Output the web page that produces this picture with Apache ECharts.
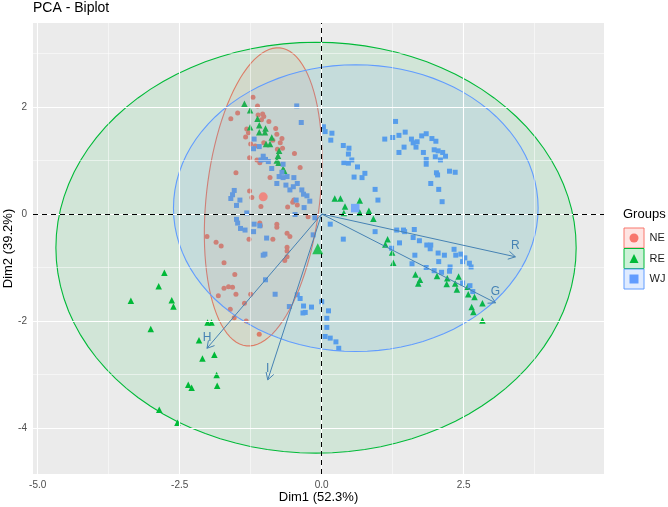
<!DOCTYPE html>
<html>
<head>
<meta charset="utf-8">
<title>PCA - Biplot</title>
<script src="https://cdn.jsdelivr.net/npm/echarts@6/dist/echarts.min.js"></script>
<style>
  html, body { margin: 0; padding: 0; background: #fff; }
  #chart { width: 668px; height: 507px; }
</style>
</head>
<body>
<div id="chart"></div>
<script>
// individuals (Dim1, Dim2)
const neData = [
  [-1.21,2.18],[-1.13,2.02],[-1.48,1.89],[-1.60,1.78],[-1.12,1.85],[-1.04,1.87],[-1.02,1.82],[-1.06,1.76],
  [-0.93,1.73],[-1.32,1.59],[-1.29,1.52],[-1.34,1.44],[-0.81,1.60],[-0.79,1.49],[-0.70,1.41],[-0.73,1.33],
  [-0.86,1.38],[-1.25,1.31],[-1.17,1.27],[-1.02,1.33],[-0.69,1.23],[-0.78,1.21],[-0.48,1.13],[-1.27,1.05],
  [-1.14,1.01],[-1.09,0.96],[-0.38,0.87],[-1.51,0.77],[-0.91,0.68],[-1.27,0.43],[-1.23,0.31],[-1.07,0.14],
  [-0.60,0.13],[-0.51,0.22],[-0.43,0.17],[-0.24,-0.05],[-0.79,-0.19],[-0.79,-0.25],[-1.08,-0.22],[-0.61,-0.36],
  [-0.56,-0.42],[-0.86,-0.47],[-2.02,-0.42],[-1.86,-0.53],[-1.77,-0.60],[-1.28,-0.47],[-0.61,-0.62],[-0.61,-0.69],
  [-1.72,-0.91],[-0.65,-0.87],[-0.61,-0.80],[-1.53,-1.13],[-1.72,-1.39],[-1.64,-1.36],[-1.57,-1.37],[-1.51,-1.50],
  [-1.82,-1.53],[-1.25,-1.50],[-1.36,-1.67],[-1.61,-1.78],[-1.54,-1.94],[-1.33,-2.00],[-1.10,-2.25],[-0.49,0.26],
  [-1.09,-0.17]
];
const reData = [
  [-1.36,2.06],[-1.26,1.94],[-1.13,1.78],[-1.10,1.66],[-1.26,1.62],[-1.10,1.53],[-0.99,1.60],[-1.00,1.53],
  [-0.88,1.43],[-0.98,1.31],[-0.91,1.31],[-0.75,1.18],[-0.77,1.09],[-0.79,1.00],[-0.76,0.96],[-0.68,0.84],
  [-0.66,0.81],
  [0.23,0.29],[0.33,0.29],[0.67,0.25],[0.41,0.14],[0.39,0.02],[0.67,0.03],[0.83,0.06],[0.91,-0.09],
  [1.16,-0.47],[1.12,-0.57],[1.24,-0.72],[1.26,-0.91],[1.65,-1.13],[1.73,-1.23],[1.70,-1.30],[2.03,-1.16],
  [2.21,-1.20],[2.20,-1.31],[2.41,-1.17],[2.35,-1.30],[2.38,-1.41],[2.57,-1.36],[2.58,-1.50],[2.69,-1.55],
  [2.83,-1.67],[2.64,-1.74],[2.67,-1.83],[2.83,-1.99],
  [-2.01,-2.03],[-1.94,-2.03],[-2.77,-1.10],[-2.87,-1.35],[-3.36,-1.62],[-2.64,-1.61],[-2.61,-1.73],[-3.01,-2.15],
  [-2.16,-2.36],[-2.10,-2.70],[-1.89,-2.63],[-1.85,-3.01],[-1.84,-3.21],[-2.35,-3.19],[-2.29,-3.25],[-2.86,-3.66],
  [-2.54,-3.90]
];
const wjData = [
  [-0.44,2.02],[-0.36,1.71],[0.03,1.63],[0.06,1.54],[0.18,1.51],[0.16,1.38],[-1.19,1.40],[-1.10,1.26],
  [-1.20,1.22],[-1.03,1.08],[-1.07,1.01],[-0.99,1.02],[-0.94,0.98],[-0.68,0.93],[-0.88,0.85],[-0.75,0.70],
  [-0.68,0.68],[-0.70,0.78],[-0.61,0.70],[-0.49,0.68],[-0.79,0.57],[-0.63,0.54],[-0.56,0.45],[-0.50,0.51],
  [-0.43,0.57],[-0.35,0.45],[-0.32,0.37],[-0.26,0.34],[-0.21,0.24],[-0.45,0.26],[-0.31,0.12],[-1.54,0.44],
  [-1.57,0.36],[-1.60,0.29],[-1.44,0.26],[-1.50,0.16],[-1.32,0.02],[-0.47,-0.01],[-0.12,-0.07],[-1.50,-0.10],
  [-1.48,-0.17],[-1.19,-0.19],[-1.09,-0.22],[-1.43,-0.27],[-1.35,-0.30],[-1.20,-0.33],[-0.97,-0.45],[-0.15,-0.39],
  [-1.00,-0.75],[-1.03,-0.77],[-0.99,-1.23],[-0.82,-1.50],[-0.43,-1.51],[-0.38,-1.58],[-0.32,-1.72],[-0.18,-1.74],
  [-0.29,-1.84],[-0.33,-1.85],[0.00,-1.64],[-0.57,-1.73],[0.12,-1.81],[0.09,-1.95],[0.09,-2.12],[0.06,-2.29],
  [0.15,-2.32],[0.25,-2.39],[0.30,-2.51],
  [1.30,1.73],[1.11,1.40],[1.25,1.43],[1.36,1.47],[1.47,1.53],[1.58,1.40],[1.61,1.33],[1.68,1.35],
  [1.66,1.25],[1.76,1.46],[1.84,1.50],[1.94,1.41],[2.01,1.36],[1.45,1.25],[1.36,1.15],[1.79,1.15],
  [1.98,1.20],[2.05,1.18],[2.13,1.15],[2.18,1.08],[2.00,1.07],[2.09,1.01],[1.84,1.02],[1.84,0.93],
  [0.38,1.28],[0.48,1.23],[0.47,1.12],[0.53,1.01],[0.39,0.96],[0.47,0.95],[0.63,0.88],[0.76,0.76],
  [0.71,0.68],[0.57,0.69],[2.02,0.77],[2.04,0.73],[2.25,0.80],[2.35,0.78],[1.92,0.57],[0.94,0.46],
  [2.06,0.46],[0.99,0.26],[2.12,0.23],
  [0.15,-0.19],[0.38,-0.47],[0.94,-0.33],[1.32,-0.30],[1.44,-0.30],[1.46,-0.33],[1.63,-0.29],[1.37,-0.54],
  [1.61,-0.44],[1.72,-0.50],[1.85,-0.58],[1.92,-0.58],[1.91,-0.65],[1.23,-0.64],[1.64,-0.77],[2.05,-0.73],
  [2.16,-0.77],[2.33,-0.66],[2.36,-0.77],[2.45,-0.75],[2.52,-0.82],[2.48,-0.89],[2.60,-0.92],[2.63,-0.99],
  [2.06,-0.89],[1.59,-0.93],[1.84,-1.00],[1.98,-1.06],[2.11,-1.09],[2.26,-0.99],[2.25,-1.07],[2.48,-1.29],
  [2.61,-1.34],[2.66,-1.45]
];

const groupNames = ['NE', 'RE', 'WJ'];
const groupMeans = [[-1.03, 0.32], [-0.07, -0.65], [0.59, 0.11]];
// ellipse per group: centre x, centre y, semi-axis 1, semi-axis 2, angle (deg)
const ellipseParams = [
  [-1.03, 0.32, 2.80, 1.00, 84],
  [-0.1, -0.63, 4.58, 3.84, 0],
  [0.60, 0.11, 3.21, 2.68, 0]
];

// variables (arrows)
const varNames = ['R', 'G', 'H', 'I'];
const varCoords = [[3.41, -0.80], [3.06, -1.66], [-2.02, -2.51], [-0.95, -3.10]];

const xTicks = [-5.0, -2.5, 0.0, 2.5];
const xMinor = [-3.75, -1.25, 1.25, 3.75];
const yTicks = [-4, -2, 0, 2];
const yMinor = [-3, -1, 1, 3];

const colors = ['#F8766D', '#00BA38', '#619CFF'];
const symbols = ['circle', 'triangle', 'rect'];
const arrowColor = '#4682B4';
const font = 'Liberation Sans, Arial, Helvetica, sans-serif';

function rgba(hex, a) {
  const n = parseInt(hex.slice(1), 16);
  return 'rgba(' + (n >> 16) + ',' + ((n >> 8) & 255) + ',' + (n & 255) + ',' + a + ')';
}

const chart = echarts.init(document.getElementById('chart'));

const lineMark = (vals, key, width) => ({
  silent: true,
  symbol: ['none', 'none'],
  label: { show: false },
  lineStyle: { color: '#fff', width: width, type: 'solid' },
  emphasis: { disabled: true },
  data: vals.map(v => ({ [key]: v }))
});

const pointSeries = [neData, reData, wjData].map((d, i) => ({
  name: groupNames[i],
  type: 'scatter',
  z: 3,
  silent: true,
  symbol: symbols[i],
  symbolSize: i === 1 ? 6.5 : 5,
  itemStyle: { color: colors[i], opacity: 1 },
  data: d
}));

chart.setOption({
  animation: false,
  title: {
    text: 'PCA - Biplot',
    left: 33, top: 1, padding: 0,
    textStyle: { fontSize: 14, fontWeight: 'normal', color: '#000', fontFamily: font }
  },
  grid: {
    left: 33, top: 23, width: 571, height: 451,
    containLabel: false, outerBoundsMode: 'none',
    show: true, backgroundColor: '#EBEBEB', borderWidth: 0
  },
  legend: {
    data: groupNames.map((g, i) => ({ name: g, icon: symbols[i] })),
    orient: 'vertical',
    left: 629.5, top: 232.5, padding: 0,
    itemWidth: 9, itemHeight: 9, itemGap: 9.5,
    selectedMode: false,
    textStyle: { fontSize: 11, color: '#1a1a1a', fontFamily: font, padding: [0, 0, 0, 6] }
  },
  graphic: [
    { type: 'text', left: 623, top: 208, style: { text: 'Groups', fontSize: 13, fill: '#000', fontFamily: font } }
  ].concat(colors.map((c, i) => ({
    type: 'rect', z: 0,
    shape: { x: 624, y: 228 + i * 20.5, width: 20, height: 20 },
    style: { fill: rgba(c, 0.2), stroke: c, lineWidth: 1 }
  }))),
  xAxis: {
    type: 'value', min: -5.083, max: 4.97,
    name: 'Dim1 (52.3%)', nameLocation: 'middle', nameGap: 17, nameMoveOverlap: false,
    nameTextStyle: { fontSize: 13, color: '#000', fontFamily: font },
    axisLine: { show: false },
    axisTick: { show: true, customValues: xTicks, length: 3, lineStyle: { color: '#333' } },
    axisLabel: { customValues: xTicks, margin: 6, fontSize: 10, color: '#4D4D4D', fontFamily: font,
      formatter: v => v.toFixed(1) },
    splitLine: { show: false }
  },
  yAxis: {
    type: 'value', min: -4.86, max: 3.57,
    name: 'Dim2 (39.2%)', nameLocation: 'middle', nameGap: 18, nameMoveOverlap: false,
    nameTextStyle: { fontSize: 13, color: '#000', fontFamily: font },
    axisLine: { show: false },
    axisTick: { show: true, customValues: yTicks, length: 3, lineStyle: { color: '#333' } },
    axisLabel: { customValues: yTicks, margin: 6, fontSize: 10, color: '#4D4D4D', fontFamily: font },
    splitLine: { show: false }
  },
  series: [
    { type: 'scatter', z: 1, data: [], markLine: lineMark(xMinor, 'xAxis', 0.5) },
    { type: 'scatter', z: 1, data: [], markLine: lineMark(yMinor, 'yAxis', 0.5) },
    { type: 'scatter', z: 1, data: [], markLine: lineMark(xTicks, 'xAxis', 1.1) },
    { type: 'scatter', z: 1, data: [], markLine: lineMark(yTicks, 'yAxis', 1.1) },
    {
      type: 'scatter', z: 2, data: [],
      markLine: {
        silent: true, symbol: ['none', 'none'], label: { show: false },
        lineStyle: { color: '#000', width: 1, type: [5, 4] },
        data: [{ xAxis: 0 }, { yAxis: 0 }]
      }
    }
  ].concat(pointSeries).concat([
    {
      type: 'custom', z: 4, silent: true,
      data: ellipseParams,
      renderItem: (params, api) => {
        const cx = api.value(0), cy = api.value(1), a = api.value(2), b = api.value(3);
        const t0 = api.value(4) * Math.PI / 180;
        const pts = [];
        for (let k = 0; k < 100; k++) {
          const t = 2 * Math.PI * k / 100;
          const x = cx + a * Math.cos(t) * Math.cos(t0) - b * Math.sin(t) * Math.sin(t0);
          const y = cy + a * Math.cos(t) * Math.sin(t0) + b * Math.sin(t) * Math.cos(t0);
          pts.push(api.coord([x, y]));
        }
        const c = colors[params.dataIndex];
        return { type: 'polygon', shape: { points: pts }, style: { fill: rgba(c, 0.11), stroke: c, lineWidth: 1.1 } };
      }
    },
    {
      type: 'scatter', z: 5, silent: true,
      data: groupMeans.map((m, i) => ({
        value: m, symbol: symbols[i], symbolSize: [9, 11, 8.5][i], itemStyle: { color: colors[i] }
      }))
    },
    {
      type: 'custom', z: 6, silent: true,
      data: varCoords,
      renderItem: (params, api) => {
        const o = api.coord([0, 0]);
        const p = api.coord([api.value(0), api.value(1)]);
        const ang = Math.atan2(p[1] - o[1], p[0] - o[0]);
        const L = 8, w = Math.PI / 6;
        const h1 = [p[0] - L * Math.cos(ang - w), p[1] - L * Math.sin(ang - w)];
        const h2 = [p[0] - L * Math.cos(ang + w), p[1] - L * Math.sin(ang + w)];
        return {
          type: 'group',
          children: [
            { type: 'line', shape: { x1: o[0], y1: o[1], x2: p[0], y2: p[1] }, style: { stroke: arrowColor, lineWidth: 1 } },
            { type: 'polyline', shape: { points: [h1, p, h2] }, style: { stroke: arrowColor, lineWidth: 1, fill: null } },
            { type: 'text', style: { text: varNames[params.dataIndex], x: p[0], y: p[1] - 11, align: 'center',
              verticalAlign: 'middle', fill: arrowColor, fontSize: 12, fontFamily: font } }
          ]
        };
      }
    }
  ])
});
</script>
</body>
</html>
